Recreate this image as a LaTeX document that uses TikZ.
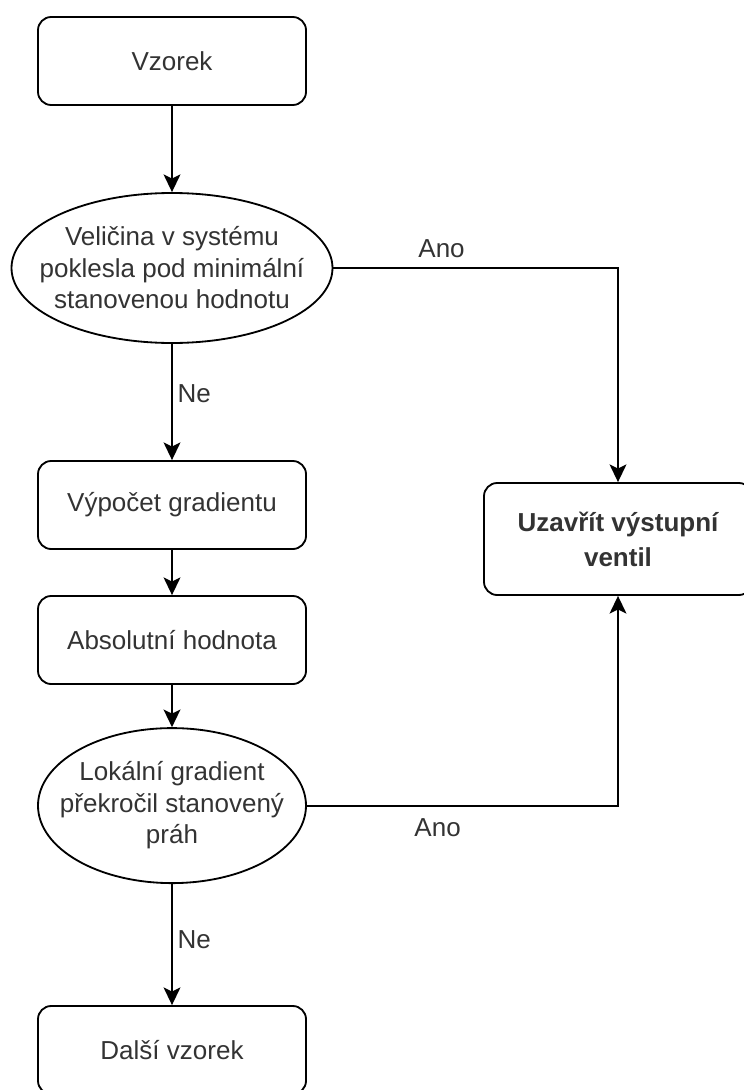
\documentclass[tikz,border=0pt]{standalone}
\usepackage{fontspec}
\setmainfont{Liberation Sans}
\usetikzlibrary{arrows.meta,positioning,shapes.geometric}
\newcommand{\flowfont}{\fontsize{18.5}{22.4}\selectfont}
\tikzset{block/.style={draw=black,line width=1.3pt,rounded corners=0.33cm,align=center,minimum width=6.7cm,minimum height=2.2cm,font=\flowfont,text=black!80},decision/.style={ellipse,draw=black,line width=1.3pt,align=center,inner xsep=-0.7cm,inner ysep=0pt,font=\flowfont,text=black!80},edge/.style={-{Stealth[length=0.44cm,width=0.42cm,inset=0.1cm]},line width=1.3pt,draw=black},lbl/.style={font=\flowfont,text=black!80}}

\begin{document}
\begin{tikzpicture}
\useasboundingbox (0,0) rectangle (18.6,-27.25);
\node[block] (s) at(4.3,-1.525){Vzorek};
\node[decision,minimum width=8.025cm,minimum height=3.75cm] (d1) at(4.3,-6.7){Veličina v systému\\poklesla pod minimální\\stanovenou hodnotu};
\node[block] (g) at(4.3,-12.625){Výpočet gradientu};
\node[block] (a) at(4.3,-16){Absolutní hodnota};
\node[decision,minimum width=6.7cm,minimum height=3.875cm] (d2) at(4.3,-20.14){Lokální gradient\\překročil stanovený\\práh};
\node[block] (n) at(4.3,-26.25){Další vzorek};
\node[block,font=\flowfont\bfseries,minimum height=2.8cm] (v) at(15.45,-13.475){Uzavřít výstupní\\[2.5pt]ventil};
\draw[edge](s)--(d1);
\draw[edge](d1)--node[lbl,right,pos=0.43]{Ne}(g);
\draw[edge](g)--(a);
\draw[edge](a)--(d2);
\draw[edge](d2)--node[lbl,right,pos=0.46]{Ne}(n);
\draw[edge](d1.east)-|node[lbl,above=3.5pt,pos=0.19]{Ano}(v.north);
\draw[edge](d2.east)-|node[lbl,below=5.5pt,pos=0.21]{Ano}(v.south);
\end{tikzpicture}
\end{document}
